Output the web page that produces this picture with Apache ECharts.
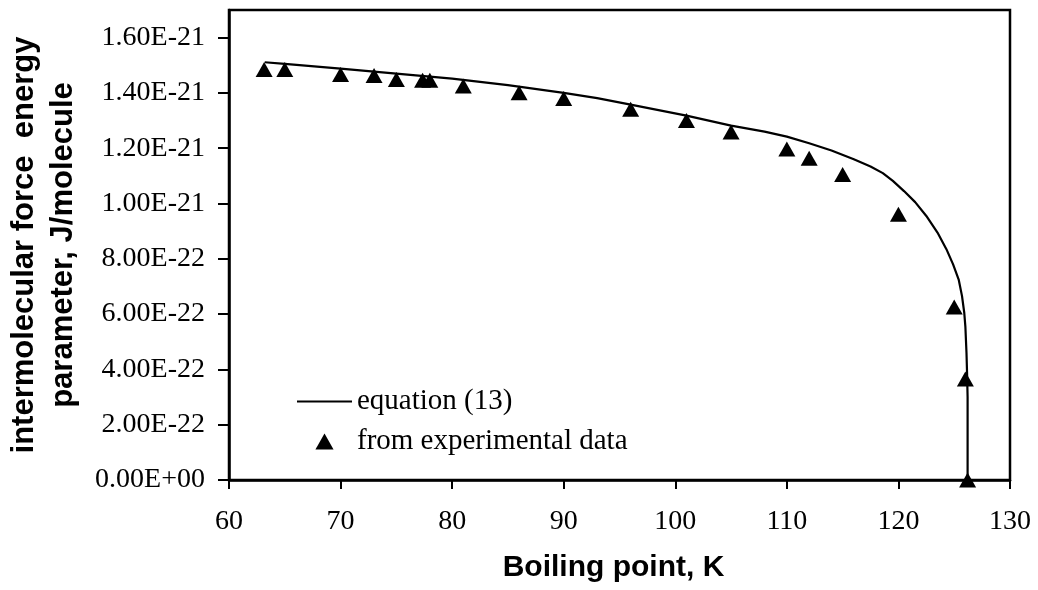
<!DOCTYPE html>
<html>
<head>
<meta charset="utf-8">
<script src="https://cdn.jsdelivr.net/npm/echarts@6/dist/echarts.min.js"></script>
<style>
  html, body { margin: 0; padding: 0; background: #fff; }
  #chart { width: 1038px; height: 590px; }
</style>
</head>
<body>
<div id="chart"></div>
<script>
// Energy values are stored in units of 1e-21 J/molecule.
const curveT = [63.2, 65, 70, 75, 80, 85, 90, 93, 96, 101, 105, 108, 110, 112, 114, 116, 117.5, 118.6, 119.5, 120.5, 121.5, 122.5, 123.5, 124.3, 124.9, 125.4, 125.7, 125.9, 126.0, 126.1, 126.15, 126.2, 126.2];
const curveE = [1.511, 1.505, 1.488, 1.470, 1.452, 1.428, 1.400, 1.381, 1.358, 1.318, 1.282, 1.260, 1.242, 1.218, 1.192, 1.160, 1.134, 1.110, 1.082, 1.045, 1.005, 0.955, 0.895, 0.835, 0.780, 0.725, 0.665, 0.605, 0.555, 0.460, 0.390, 0.300, 0.000];

const expT = [63.15, 65, 70, 73, 75, 77.35, 78, 81, 86, 90, 96, 101, 105, 110, 112, 115, 120, 125, 126, 126.2];
const expE = [1.485, 1.485, 1.467, 1.463, 1.449, 1.446, 1.446, 1.425, 1.401, 1.380, 1.341, 1.300, 1.259, 1.197, 1.164, 1.105, 0.961, 0.626, 0.365, 0.000];

const xTicks = [60, 70, 80, 90, 100, 110, 120, 130];
const yTicks = [0, 0.2, 0.4, 0.6, 0.8, 1.0, 1.2, 1.4, 1.6];
const yTickLabels = ['0.00E+00', '2.00E-22', '4.00E-22', '6.00E-22', '8.00E-22', '1.00E-21', '1.20E-21', '1.40E-21', '1.60E-21'];

const seriesNames = ['equation (13)', 'from experimental data'];
const xTitle = 'Boiling point, K';
const yTitle = 'intermolecular force  energy\nparameter, J/molecule';

const serif = 'Liberation Serif, Times New Roman, serif';
const sans = 'Liberation Sans, Arial, sans-serif';

// Legend glyphs: a plain stroke for the curve, a solid triangle for the measurements
const lineIcon = 'path://M0,0H55V2.2H0Z';
const triIcon = 'path://M8.5,0L17,15L0,15Z';

const chart = echarts.init(document.getElementById('chart'), null, { renderer: 'canvas' });

chart.setOption({
  backgroundColor: '#ffffff',
  animation: false,
  grid: {
    left: 229, right: 28, top: 10, bottom: 110,
    outerBoundsMode: 'none',
    containLabel: false,
    show: true, borderColor: '#000', borderWidth: 2.5, backgroundColor: 'transparent'
  },
  legend: {
    orient: 'vertical',
    left: 297, top: 387,
    padding: 0,
    itemWidth: 55, itemHeight: 16, itemGap: 11,
    symbolKeepAspect: true,
    textStyle: { fontFamily: serif, fontSize: 29, color: '#000' },
    data: [
      { name: seriesNames[0], icon: lineIcon, itemStyle: { color: '#000' } },
      { name: seriesNames[1], icon: triIcon, itemStyle: { color: '#000' } }
    ]
  },
  xAxis: {
    type: 'value',
    min: xTicks[0], max: xTicks[xTicks.length - 1], interval: 10,
    name: xTitle, nameLocation: 'middle', nameGap: 73,
    nameTextStyle: { fontFamily: sans, fontWeight: 'bold', fontSize: 30, color: '#000', padding: [0, 12, 0, 0] },
    axisLine: { show: true, lineStyle: { color: '#000', width: 2.5 } },
    axisTick: { show: true, inside: false, length: 9, lineStyle: { color: '#000', width: 2 } },
    axisLabel: { fontFamily: serif, fontSize: 28, color: '#000', margin: 28 },
    splitLine: { show: false }
  },
  yAxis: {
    type: 'value',
    min: 0, max: 1.7, interval: 0.2,
    name: yTitle, nameLocation: 'middle', nameGap: 146, nameRotate: 90,
    nameTextStyle: { fontFamily: sans, fontWeight: 'bold', fontSize: 31, color: '#000', lineHeight: 39, align: 'center' },
    axisLine: { show: true, lineStyle: { color: '#000', width: 2.5 } },
    axisTick: { show: true, inside: false, length: 11, customValues: yTicks, lineStyle: { color: '#000', width: 2 } },
    axisLabel: {
      fontFamily: serif, fontSize: 28, color: '#000', margin: 24,
      customValues: yTicks,
      formatter: function (v) {
        const i = yTicks.findIndex(t => Math.abs(t - v) < 1e-6);
        return i >= 0 ? yTickLabels[i] : '';
      }
    },
    splitLine: { show: false }
  },
  series: [
    {
      name: seriesNames[0],
      type: 'line',
      data: curveT.map((t, i) => [t, curveE[i]]),
      symbol: 'none',
      smooth: false,
      lineStyle: { color: '#000', width: 2.2, join: 'round' },
      itemStyle: { color: '#000' },
      z: 2
    },
    {
      name: seriesNames[1],
      type: 'scatter',
      data: expT.map((t, i) => [t, expE[i]]),
      symbol: 'triangle',
      symbolSize: [17, 15],
      itemStyle: { color: '#000', opacity: 1 },
      z: 3
    }
  ]
});
</script>
</body>
</html>
